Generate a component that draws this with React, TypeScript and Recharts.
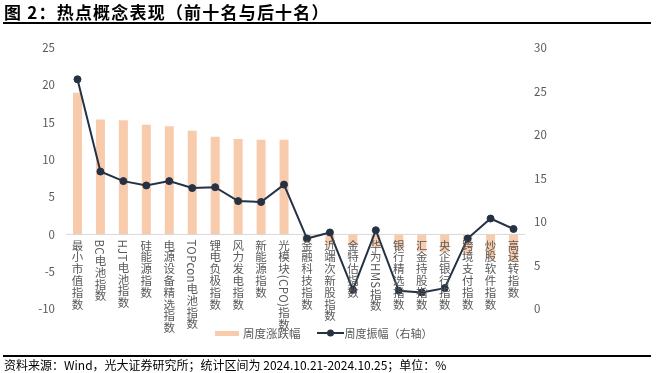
import React from 'react';
import { ComposedChart, Bar, Line, XAxis, YAxis, ReferenceLine } from 'recharts';

const categories = ['最小市值指数', 'BC电池指数', 'HJT电池指数', '硅能源指数', '电源设备精选指数', 'TOPcon电池指数', '锂电负极指数', '风力发电指数', '新能源指数', '光模块(CPO)指数', '金融科技指数', '近端次新股指数', '金特估指数', '华为HMS指数', '银行精选指数', '汇金持股指数', '央企银行指数', '跨境支付指数', '炒股软件指数', '高送转指数'];
const weeklyChange = [19.0, 15.4, 15.3, 14.7, 14.5, 13.9, 13.1, 12.8, 12.7, 12.7, -1.0, -1.4, -1.5, -1.7, -1.9, -2.3, -2.4, -2.6, -3.3, -3.6];
const weeklyAmplitude = [26.4, 15.8, 14.7, 14.2, 14.7, 13.9, 14.0, 12.4, 12.3, 14.3, 8.1, 8.8, 2.2, 9.05, 2.1, 1.9, 2.4, 8.1, 10.4, 9.2];
const leftTicks = [-10, -5, 0, 5, 10, 15, 20, 25];
const rightTicks = [0, 5, 10, 15, 20, 25, 30];

const data = categories.map((name, i) => ({ name, change: weeklyChange[i], amp: weeklyAmplitude[i] }));

const W = 659;
const H = 373;
const TOP = 48;
const BOTTOM = 64;
const PLOT_H = H - TOP - BOTTOM;
const LMIN = -10;
const LMAX = 25;
const ZERO_Y = TOP + (PLOT_H * (LMAX - 0)) / (LMAX - LMIN);

const FONT = '"Noto Sans CJK SC", "Noto Sans", sans-serif';
const GRAY = '#595959';
const BAR = '#F8CBAD';
const LINE = '#243244';

const CatTick = (props: any) => {
  const { x, payload } = props;
  return (
    <text
      x={x}
      y={ZERO_Y + 5}
      fill={GRAY}
      fontSize={11.5}
      fontFamily={FONT}
      letterSpacing={0.3}
      style={{ writingMode: 'vertical-rl' as any }}
    >
      {payload.value}
    </text>
  );
};

export default function App() {
  return (
    <div style={{ position: 'fixed', left: 0, top: 0, width: W, height: H, background: '#fff', fontFamily: FONT }}>
      <div style={{ position: 'absolute', left: 4, top: 0, fontSize: 17, fontWeight: 700, letterSpacing: 1.2, color: '#000', lineHeight: '23px', whiteSpace: 'nowrap' }}>
        图 2：热点概念表现（前十名与后十名）
      </div>
      <div style={{ position: 'absolute', left: 3, top: 22, width: 648, height: 1.5, background: '#000' }} />
      <div style={{ position: 'absolute', left: 0, top: 0 }}>
        <ComposedChart width={W} height={H} data={data} margin={{ top: TOP, right: 0, bottom: 0, left: 0 }}>
          <YAxis
            yAxisId="left"
            orientation="left"
            width={66}
            domain={[LMIN, LMAX]}
            ticks={leftTicks}
            axisLine={false}
            tickLine={false}
            tickMargin={5}
            tick={{ fill: GRAY, fontSize: 11.5, fontFamily: FONT }}
            interval={0}
          />
          <YAxis
            yAxisId="right"
            orientation="right"
            width={134}
            domain={[0, 30]}
            ticks={rightTicks}
            axisLine={false}
            tickLine={false}
            tickMargin={3}
            tick={{ fill: GRAY, fontSize: 11.5, fontFamily: FONT }}
            interval={0}
          />
          <ReferenceLine yAxisId="left" y={0} stroke="#d9d9d9" strokeWidth={1} />
          <Bar yAxisId="left" dataKey="change" fill={BAR} barSize={9} isAnimationActive={false} />
          <XAxis
            dataKey="name"
            height={BOTTOM}
            axisLine={false}
            tickLine={false}
            interval={0}
            tick={<CatTick />}
          />
          <Line
            yAxisId="right"
            dataKey="amp"
            stroke={LINE}
            strokeWidth={2}
            dot={{ r: 3.5, fill: LINE, stroke: LINE, strokeWidth: 1 }}
            isAnimationActive={false}
          />
        </ComposedChart>
      </div>
      <div style={{ position: 'absolute', left: 215, top: 325, display: 'flex', alignItems: 'center', fontSize: 11.5, color: GRAY, whiteSpace: 'nowrap' }}>
        <span style={{ display: 'inline-block', width: 24, height: 5, background: BAR, marginRight: 4 }} />
        <span>周度涨跌幅</span>
        <svg width={27} height={12} style={{ marginLeft: 16, marginRight: 1 }}>
          <line x1={0} y1={6} x2={27} y2={6} stroke={LINE} strokeWidth={2} />
          <circle cx={13.5} cy={6} r={3.5} fill={LINE} />
        </svg>
        <span style={{ fontSize: 11 }}>周度振幅（右轴）</span>
      </div>
      <div style={{ position: 'absolute', left: 3, top: 355, width: 648, height: 1.5, background: '#000' }} />
      <div style={{ position: 'absolute', left: 4, top: 357, fontSize: 12, color: '#000', whiteSpace: 'nowrap', lineHeight: '15px' }}>
        资料来源：Wind，光大证券研究所；统计区间为 2024.10.21-2024.10.25；单位：%
      </div>
    </div>
  );
}
